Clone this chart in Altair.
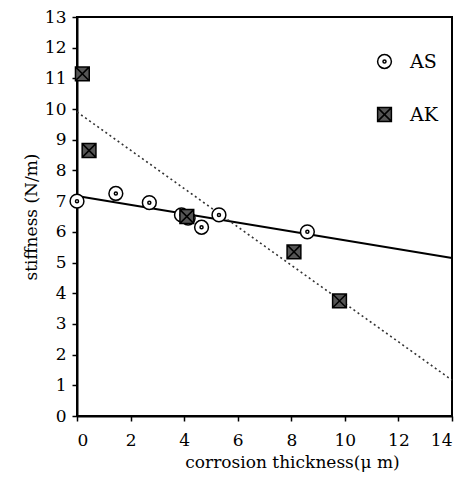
import altair as alt
import pandas as pd

as_x = [0.0, 1.45, 2.7, 3.9, 4.15, 4.65, 5.3, 8.6]
as_y = [7.0, 7.25, 6.95, 6.55, 6.45, 6.15, 6.55, 6.0]
ak_x = [0.2, 0.45, 4.1, 8.1, 9.8]
ak_y = [11.15, 8.65, 6.5, 5.35, 3.75]

series_names = ["AS", "AK"]

df = pd.DataFrame({
    "x": as_x + ak_x,
    "y": as_y + ak_y,
    "series": ["AS"] * len(as_x) + ["AK"] * len(ak_x),
})

FONT = "DejaVu Serif"

circle_dot = ("M-1,0A1,1 0 1,0 1,0A1,1 0 1,0 -1,0Z "
              "M-0.22,0A0.22,0.22 0 1,0 0.22,0A0.22,0.22 0 1,0 -0.22,0Z")
square_x = "M-1,-1H1V1H-1Z M-1,-1L1,1 M1,-1L-1,1"

xs = alt.Scale(domain=[0, 14], nice=False, zero=False)
ys = alt.Scale(domain=[0, 13], nice=False, zero=False)

x_axis = alt.Axis(values=list(range(0, 15, 2)), title="corrosion thickness(\u03bc m)",
                  grid=False, tickSize=5, labelPadding=11, titleX=215, titleY=46,
                  titleBaseline="middle", titleAnchor="start", titleAlign="center")
y_axis = alt.Axis(values=list(range(0, 14)), title="stiffness (N/m)", grid=False,
                  tickSize=5, labelPadding=6, titlePadding=4)

X = alt.X("x:Q", scale=xs, axis=x_axis)
Y = alt.Y("y:Q", scale=ys, axis=y_axis)

legend = alt.Legend(title=None, orient="none", legendX=298, legendY=35,
                    rowPadding=32, labelOffset=16, symbolSize=190,
                    symbolStrokeWidth=1.5,
                    labelFont=FONT, labelFontSize=19, labelColor="black",
                    padding=0)

base = alt.Chart(df)

line_as = base.transform_filter(alt.datum.series == "AS").transform_regression(
    "x", "y", extent=[0, 14]
).mark_line(color="black", strokeWidth=2).encode(x=X, y=Y)

line_ak = base.transform_filter(alt.datum.series == "AK").transform_regression(
    "x", "y", extent=[0, 14]
).mark_line(color="#333", strokeWidth=1.6, strokeDash=[2, 3]).encode(x=X, y=Y)

points = base.mark_point(filled=True, strokeWidth=1.5, opacity=1, size=190).encode(
    x=X, y=Y,
    shape=alt.Shape("series:N", scale=alt.Scale(domain=series_names, range=[circle_dot, square_x]),
                    legend=legend),
    fill=alt.Fill("series:N", scale=alt.Scale(domain=series_names, range=["white", "#555"]),
                  legend=legend),
    stroke=alt.Stroke("series:N", scale=alt.Scale(domain=series_names, range=["black", "black"]),
                      legend=legend),
)

chart = alt.layer(line_as, line_ak, points).properties(
    width=375, height=399,
    background="white",
    autosize=alt.AutoSizeParams(type="none"),
    padding={"left": 69, "top": 9, "right": 3, "bottom": 65},
).configure_view(
    stroke="black", strokeWidth=2
).configure_axis(
    labelFont=FONT, titleFont=FONT, labelFontSize=17, titleFontSize=17,
    labelColor="black", titleColor="black", titleFontWeight="normal",
    domainColor="black", tickColor="black", domainWidth=2, tickWidth=1.5,
)

chart.save("out.html", embed_options={"renderer": "svg", "actions": False})
